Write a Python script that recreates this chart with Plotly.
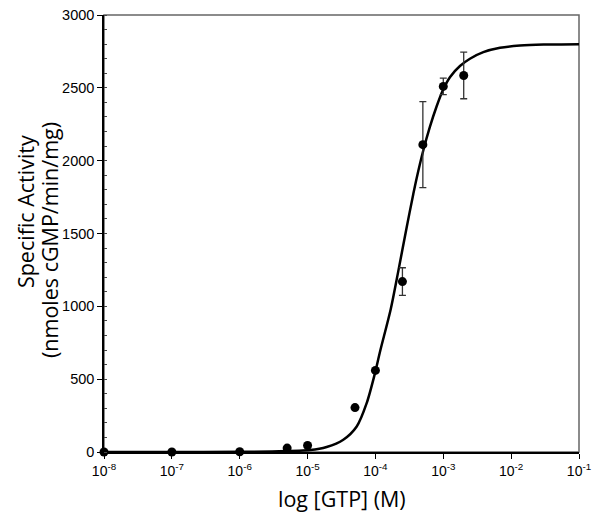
import plotly.graph_objects as go

# Measured data points
gtp_conc = [1e-8, 1e-7, 1e-6, 5e-6, 1e-5, 5e-5, 1e-4, 2.5e-4, 5e-4, 1e-3, 2e-3]
activity = [0, 0, 2, 27, 45, 305, 560, 1170, 2110, 2510, 2585]
activity_err = [0, 0, 0, 0, 0, 0, 0, 95, 295, 57, 160]

# Fitted curve
curve_x = [1e-8, 1e-7, 1e-6, 3e-6, 1.09e-5, 1.91e-5, 3.36e-5, 5.3e-5, 7.43e-5, 9.85e-5,
           1.17e-4, 1.68e-4, 2.17e-4, 2.88e-4, 3.61e-4, 4.05e-4, 5.07e-4, 6.33e-4,
           7.94e-4, 1e-3, 1.26e-3, 1.76e-3, 2.47e-3, 3.89e-3, 6.85e-3, 1.35e-2, 3e-2, 1e-1]
curve_y = [0, 0, 1, 4, 13, 34, 84, 175, 335, 541,
           690, 980, 1240, 1540, 1770, 1880, 2070, 2230,
           2370, 2490, 2575, 2650, 2700, 2745, 2775, 2790, 2797, 2800]

x_tickvals = [1e-8, 1e-7, 1e-6, 1e-5, 1e-4, 1e-3, 1e-2, 1e-1]
x_ticktext = ["10<sup>-8</sup>", "10<sup>-7</sup>", "10<sup>-6</sup>", "10<sup>-5</sup>",
              "10<sup>-4</sup>", "10<sup>-3</sup>", "10<sup>-2</sup>", "10<sup>-1</sup>"]
y_tickvals = [0, 500, 1000, 1500, 2000, 2500, 3000]

x_title = "log [GTP] (M)"
y_title_lines = ["Specific Activity", "(nmoles cGMP/min/mg)"]

title_font = dict(family="Open Sans, sans-serif", size=21.5, color="black")

fig = go.Figure()
fig.add_trace(go.Scatter(
    x=curve_x, y=curve_y, mode="lines",
    line=dict(color="black", width=2.5, shape="spline", smoothing=0.8),
    hoverinfo="skip", showlegend=False, cliponaxis=False))
fig.add_trace(go.Scatter(
    x=gtp_conc, y=activity, mode="markers",
    marker=dict(color="black", size=9),
    error_y=dict(type="data", array=activity_err, visible=True,
                 color="#333333", thickness=1.3, width=3.5),
    showlegend=False, cliponaxis=False))

# page body has an 8px default margin, so the figure is 592x512
fig.update_layout(
    width=592, height=512,
    margin=dict(l=96, r=21, t=7, b=68, autoexpand=False),
    paper_bgcolor="white", plot_bgcolor="white",
    font=dict(family="Liberation Sans, Arial, sans-serif", color="black", size=14.5),
    shapes=[dict(type="rect", xref="paper", yref="paper", x0=0, y0=0, x1=1, y1=1,
                 line=dict(color="#666666", width=1.5), layer="below")],
    annotations=[
        dict(text=x_title, xref="paper", yref="paper", x=0.5, y=0, yshift=-46,
             xanchor="center", yanchor="middle", showarrow=False, font=title_font),
        dict(text=y_title_lines[0], xref="paper", yref="paper", x=0, xshift=-79, y=0.549,
             xanchor="center", yanchor="middle", textangle=-90, showarrow=False, font=title_font),
        dict(text=y_title_lines[1], xref="paper", yref="paper", x=0, xshift=-55, y=0.485,
             xanchor="center", yanchor="middle", textangle=-90, showarrow=False, font=title_font),
    ],
)
fig.update_xaxes(
    type="log", range=[-8, -1], automargin=False, ticklabeloverflow="allow",
    tickvals=x_tickvals, ticktext=x_ticktext,
    ticks="outside", ticklen=5, tickcolor="black", tickwidth=1,
    showline=True, linecolor="black", linewidth=1.5,
    showgrid=False, zeroline=False,
    tickfont=dict(size=14),
)
fig.update_yaxes(
    range=[0, 3000], automargin=False, ticklabeloverflow="allow",
    tickvals=y_tickvals,
    ticks="outside", ticklen=5, tickcolor="black", tickwidth=1,
    minor=dict(ticks="inside", dtick=100, ticklen=3, tickcolor="#444444", tickwidth=1, showgrid=False),
    showline=True, linecolor="black", linewidth=1.5,
    showgrid=False, zeroline=False,
    tickfont=dict(size=14.5),
)

fig.write_html("out.html")
